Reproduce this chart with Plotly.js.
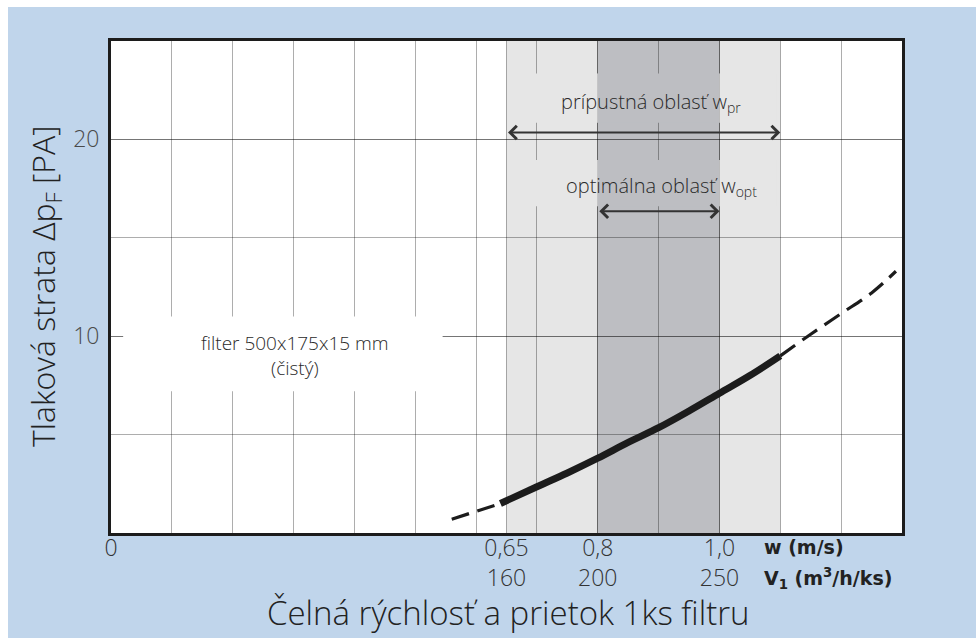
<!DOCTYPE html>
<html>
<head>
<meta charset="utf-8">
<script src="https://cdn.plot.ly/plotly-3.0.1.min.js"></script>
<style>
  html, body { margin: 0; padding: 0; background: #ffffff; }
  #chart { position: absolute; left: 8px; top: 7px; width: 968px; height: 631px; }
</style>
</head>
<body>
<div id="chart"></div>
<script>
// ---- data ----
const wLow = [0.56, 0.60, 0.64];
const dpLow = [0.7, 1.1, 1.5];
const wMain = [0.64, 0.70, 0.75, 0.80, 0.85, 0.90, 0.95, 1.00, 1.05, 1.10];
const dpMain = [1.5, 2.35, 3.05, 3.8, 4.6, 5.35, 6.2, 7.1, 8.0, 9.0];
const wHigh = [1.10, 1.15, 1.20, 1.25, 1.29];
const dpHigh = [9.0, 10.1, 11.15, 12.2, 13.3];

const tickW = [0, 0.65, 0.8, 1.0];
const tickWText = ['0', '0,65', '0,8', '1,0'];
const tickVText = ['', '160', '200', '250'];
const yTickVals = [10, 20];
const yTickText = ['10', '20'];

const permissibleRange = [0.65, 1.1];
const optimalRange = [0.8, 1.0];

const FONT = '"Open Sans", Roboto, sans-serif';
const UNITFONT = '"DejaVu Sans", "Open Sans", sans-serif';
const INK = '#1c1c1c';
const LIGHT = '#e6e6e6';
const DARK = '#bdbec2';
const GRID = 'rgba(0,0,0,0.32)';

const traces = [
  { x: wLow, y: dpLow, mode: 'lines', line: { color: INK, width: 3.2, dash: '18px,9px', shape: 'spline' }, hoverinfo: 'skip' },
  { x: wMain, y: dpMain, mode: 'lines', line: { color: INK, width: 7, shape: 'spline' }, hoverinfo: 'skip' },
  { x: wHigh, y: dpHigh, mode: 'lines', line: { color: INK, width: 3.2, dash: '18px,9px', shape: 'spline' }, hoverinfo: 'skip' }
];

// background bands
const shapes = [
  { type: 'rect', layer: 'below', xref: 'x', yref: 'paper', x0: permissibleRange[0], x1: permissibleRange[1], y0: 0, y1: 1, fillcolor: LIGHT, line: { width: 0 } },
  { type: 'rect', layer: 'below', xref: 'x', yref: 'paper', x0: optimalRange[0], x1: optimalRange[1], y0: 0, y1: 1, fillcolor: DARK, line: { width: 0 } }
];
// gaps in the grid behind the labels
const segs = [
  [permissibleRange[0] + 0.006, optimalRange[0], LIGHT],
  [optimalRange[0], optimalRange[1], DARK],
  [optimalRange[1], permissibleRange[1] - 0.006, LIGHT]
];
[[20.85, 23.35], [16.6, 18.95]].forEach(function (r) {
  segs.forEach(function (s) {
    shapes.push({ type: 'rect', layer: 'above', xref: 'x', yref: 'y', x0: s[0], x1: s[1], y0: r[0], y1: r[1], fillcolor: s[2], line: { width: 0 } });
  });
});
shapes.push({ type: 'rect', layer: 'above', xref: 'x', yref: 'y', x0: 0.02, x1: 0.545, y0: 7.2, y1: 11.0, fillcolor: '#ffffff', line: { width: 0 } });

const ticktext = tickWText.map(function (t, i) { return tickVText[i] ? t + '<br>' + tickVText[i] : t; });

const layout = {
  width: 968, height: 631,
  paper_bgcolor: '#c0d5eb',
  plot_bgcolor: '#ffffff',
  margin: { l: 103, r: 74, t: 34, b: 105 },
  showlegend: false,
  hovermode: false,
  font: { family: FONT, color: '#2a2a2a' },
  xaxis: {
    range: [0, 1.3], fixedrange: true,
    tickmode: 'array', tickvals: tickW, ticktext: ticktext,
    ticks: '', showgrid: true, gridcolor: GRID, gridwidth: 1,
    minor: { dtick: 0.1, tick0: 0, showgrid: true, gridcolor: GRID, gridwidth: 1, ticks: '' },
    zeroline: false,
    showline: true, mirror: true, linecolor: INK, linewidth: 3,
    tickfont: { family: FONT, size: 23, color: '#333333', weight: 300 },
    ticklabelstandoff: -8
  },
  yaxis: {
    range: [0, 25], fixedrange: true,
    tickmode: 'array', tickvals: yTickVals, ticktext: yTickText,
    ticks: '', showgrid: true, gridcolor: GRID, gridwidth: 1,
    minor: { dtick: 5, tick0: 0, showgrid: true, gridcolor: GRID, gridwidth: 1, ticks: '' },
    zeroline: false,
    showline: true, mirror: true, linecolor: INK, linewidth: 3,
    tickfont: { family: FONT, size: 23, color: '#4a4a4a', weight: 300 },
    ticklabelstandoff: 4
  },
  shapes: shapes,
  annotations: [
    { xref: 'paper', yref: 'paper', x: 0, y: 0.5, xshift: -66, textangle: -90, showarrow: false,
      xanchor: 'center', yanchor: 'middle',
      text: 'Tlaková strata Δp<sub>F</sub> [PA]', font: { family: FONT, size: 32, color: '#222222', weight: 300 } },
    { xref: 'paper', yref: 'paper', x: 0.502, y: -0.161, showarrow: false, xanchor: 'center', yanchor: 'middle',
      text: 'Čelná rýchlosť a prietok 1ks filtru', font: { family: FONT, size: 33, color: '#222222', weight: 300 } },
    { xref: 'x', yref: 'paper', x: 1.07, y: -0.028, showarrow: false, xanchor: 'left', yanchor: 'middle',
      text: 'w (m/s)', font: { family: UNITFONT, size: 19, color: '#222222', weight: 700 } },
    { xref: 'x', yref: 'paper', x: 1.07, y: -0.092, showarrow: false, xanchor: 'left', yanchor: 'middle',
      text: 'V<sub>1</sub> (m<sup>3</sup>/h/ks)', font: { family: UNITFONT, size: 19, color: '#222222', weight: 700 } },
    { xref: 'x', yref: 'y', x: 0.302, y: 9.0, showarrow: false, xanchor: 'center', yanchor: 'middle',
      text: 'filter 500x175x15 mm<br>(čistý)', font: { family: FONT, size: 19, color: '#2a2a2a', weight: 300 } },
    { xref: 'x', yref: 'y', x: 0.887, y: 21.85, showarrow: false, xanchor: 'center', yanchor: 'middle',
      text: 'prípustná oblasť w<sub>pr</sub>', font: { family: FONT, size: 20, color: '#2a2a2a', weight: 300 } },
    { xref: 'x', yref: 'y', x: 0.904, y: 17.6, showarrow: false, xanchor: 'center', yanchor: 'middle',
      text: 'optimálna oblasť w<sub>opt</sub>', font: { family: FONT, size: 20, color: '#2a2a2a', weight: 300 } },
    { xref: 'x', yref: 'y', axref: 'x', ayref: 'y', x: permissibleRange[1], y: 20.35, ax: permissibleRange[0], ay: 20.35,
      text: '', showarrow: true, arrowhead: 4, startarrowhead: 4, arrowside: 'end+start', arrowwidth: 2, arrowsize: 1.3, startarrowsize: 1.3, arrowcolor: '#333333' },
    { xref: 'x', yref: 'y', axref: 'x', ayref: 'y', x: optimalRange[1], y: 16.35, ax: optimalRange[0], ay: 16.35,
      text: '', showarrow: true, arrowhead: 4, startarrowhead: 4, arrowside: 'end+start', arrowwidth: 2, arrowsize: 1.3, startarrowsize: 1.3, arrowcolor: '#333333' }
  ]
};

Plotly.newPlot('chart', traces, layout, { displayModeBar: false, staticPlot: true });
</script>
</body>
</html>
